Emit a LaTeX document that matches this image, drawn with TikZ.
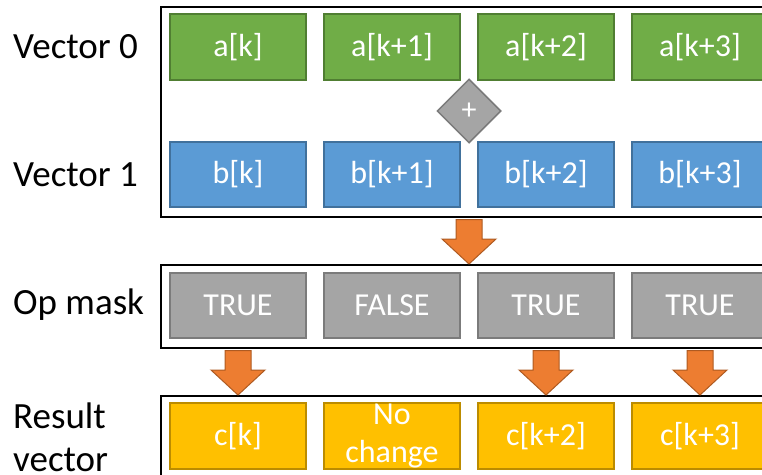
\documentclass[tikz,border=0pt]{standalone}
\usepackage{fontspec}
\setmainfont{Carlito}
\usepackage{tikz}
\usetikzlibrary{calc}
\usetikzlibrary{shapes}

\definecolor{vgreen}{HTML}{70AD47}
\definecolor{vgreenline}{HTML}{507E32}
\definecolor{vblue}{HTML}{5B9BD5}
\definecolor{vblueline}{HTML}{41719C}
\definecolor{mgray}{HTML}{A5A5A5}
\definecolor{mgrayline}{HTML}{7B7B7B}
\definecolor{rgold}{HTML}{FFC000}
\definecolor{rgoldline}{HTML}{BC8C00}
\definecolor{aorange}{HTML}{ED7D31}
\definecolor{aorangeline}{HTML}{AE5A21}

\tikzset{
    frame/.style={draw=black, line width=2pt, rectangle, anchor=north west, minimum width=660pt, inner sep=0pt},
    cell/.style={rectangle, line width=1.5pt, minimum width=136pt, minimum height=66pt, inner sep=0pt,
        text=white, align=center, font=\fontsize{32}{38}\selectfont},
    rowname/.style={anchor=west, inner sep=0pt, align=left, font=\fontsize{37}{43}\selectfont},
    blockarrow/.style={fill=aorange, draw=aorangeline, line width=1pt, line join=miter}
}
% fat down arrow from #1 to the tip at #2
\newcommand{\fatarrow}[2]{ \filldraw[blockarrow] let \p1=(#1), \p2=(#2) in
    (\x1-13pt,\y1-1.5pt) -- (\x1+13pt,\y1-1.5pt) -- (\x1+13pt,\y2+25pt) -- (\x1+27pt,\y2+25pt)
    -- (\x1,\y2) -- (\x1-27pt,\y2+25pt) -- (\x1-13pt,\y2+25pt) -- cycle;}

\begin{document}
\begin{tikzpicture}[x=1pt, y=-1pt]
        \clip (0,0) rectangle (762,474);

        % the three frames
        \node[frame, minimum height=210pt] (vecframe) at (160,6) {};
        \node[frame, minimum height=83pt] (maskframe) at (160,264) {};
        \node[frame, minimum height=120pt] (resframe) at (160,395) {};

        % row names
        \node[rowname] (name0) at (13,47) {Vector 0};
        \node[rowname] (name1) at (13,175) {Vector 1};
        \node[rowname] (namem) at (13,305) {Op mask};
        \node[rowname] (namer) at (13,437) {Result\\vector};

        % input vectors
        \foreach \i/\s in {0/,1/+1,2/+2,3/+3} {
            \node[cell, fill=vgreen, draw=vgreenline] (a\i) at (238+154*\i,47) {a[k\s]};
            \node[cell, fill=vblue, draw=vblueline, minimum height=65pt] (b\i) at (238+154*\i,174.5) {b[k\s]};
        }

        % op mask
        \node[cell, fill=mgray, draw=mgrayline, minimum height=65pt] (m0) at (238,305.5) {TRUE};
        \node[cell, fill=mgray, draw=mgrayline, minimum height=65pt] (m1) at (392,305.5) {FALSE};
        \node[cell, fill=mgray, draw=mgrayline, minimum height=65pt] (m2) at (546,305.5) {TRUE};
        \node[cell, fill=mgray, draw=mgrayline, minimum height=65pt] (m3) at (700,305.5) {TRUE};

        % result
        \node[cell, fill=rgold, draw=rgoldline] (c0) at (238,436) {c[k]};
        \node[cell, fill=rgold, draw=rgoldline] (c1) at (392,436) {No\\change};
        \node[cell, fill=rgold, draw=rgoldline] (c2) at (546,436) {c[k+2]};
        \node[cell, fill=rgold, draw=rgoldline] (c3) at (700,436) {c[k+3]};

        % the add op between the two vectors
        \coordinate (gap) at ($(a1.south east)!0.5!(b2.north west)$);
        \node[diamond, aspect=1, minimum width=64pt, minimum height=64pt, inner sep=0pt,
            fill=mgray, draw=mgrayline, line width=1.5pt, text=white,
            font=\fontsize{30}{30}\selectfont] (plus) at (gap) {+};

        % arrows
        \fatarrow{vecframe.south -| gap}{maskframe.north -| gap}
        \fatarrow{maskframe.south -| m0}{resframe.north -| c0}
        \fatarrow{maskframe.south -| m2}{resframe.north -| c2}
        \fatarrow{maskframe.south -| m3}{resframe.north -| c3}
    \end{tikzpicture}
\end{document}
